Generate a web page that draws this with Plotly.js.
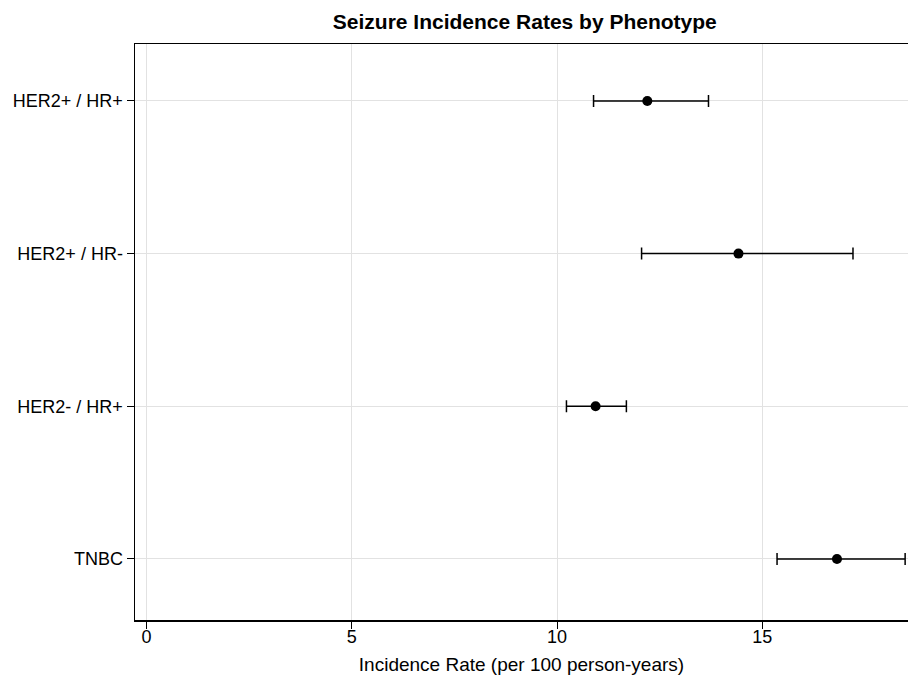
<!DOCTYPE html>
<html>
<head>
<meta charset="utf-8">
<script src="https://cdn.plot.ly/plotly-3.0.1.min.js"></script>
<style>html,body{margin:0;padding:0;background:#fff;}#chart{width:908px;height:680px;}</style>
</head>
<body>
<div id="chart"></div>
<script>
const phenotypes = ["HER2+ / HR+", "HER2+ / HR-", "HER2- / HR+", "TNBC"];
const rates = [12.20, 14.42, 10.94, 16.82];
const lowerCI = [10.89, 12.06, 10.23, 15.36];
const upperCI = [13.69, 17.21, 11.69, 18.48];
const xTicks = [0, 5, 10, 15];

const plus = upperCI.map((u, i) => u - rates[i]);
const minus = lowerCI.map((l, i) => rates[i] - l);

const trace = {
  type: 'scatter',
  mode: 'markers',
  x: rates,
  y: phenotypes,
  marker: {color: '#000', size: 10},
  error_x: {type: 'data', symmetric: false, array: plus, arrayminus: minus,
            color: '#000', thickness: 1.5, width: 6},
  cliponaxis: false,
  showlegend: false
};

const layout = {
  width: 908, height: 680,
  margin: {l: 135, r: 0, t: 44, b: 60},
  paper_bgcolor: '#fff', plot_bgcolor: '#fff',
  font: {family: 'Liberation Sans, Arial, sans-serif', color: '#000', size: 18},
  title: {text: '<b>Seizure Incidence Rates by Phenotype</b>', x: 0.578, xanchor: 'center', y: 0.968, yanchor: 'middle',
          font: {size: 21, color: '#000'}},
  xaxis: {
    range: [-0.28, 18.55], tickvals: xTicks, ticktext: xTicks.map(String),
    showgrid: true, gridcolor: '#e2e2e2', gridwidth: 1, zeroline: false,
    showline: true, linecolor: '#000', linewidth: 1.5, mirror: true,
    ticks: 'outside', ticklen: 7, tickcolor: '#000', tickwidth: 1,
    ticklabelstandoff: -7,
    tickfont: {size: 18},
    title: {text: 'Incidence Rate (per 100 person-years)', font: {size: 19}, standoff: 11}
  },
  yaxis: {
    type: 'category', categoryorder: 'array', categoryarray: phenotypes.slice().reverse(),
    range: [-0.4, 3.373],
    showgrid: true, gridcolor: '#e2e2e2', gridwidth: 1, zeroline: false,
    showline: true, linecolor: '#000', linewidth: 1.5, mirror: false,
    ticks: 'outside', ticklen: 7, tickcolor: '#000', tickwidth: 1,
    tickfont: {size: 18}
  }
};

Plotly.newPlot('chart', [trace], layout, {displayModeBar: false, staticPlot: true});
</script>
</body>
</html>
